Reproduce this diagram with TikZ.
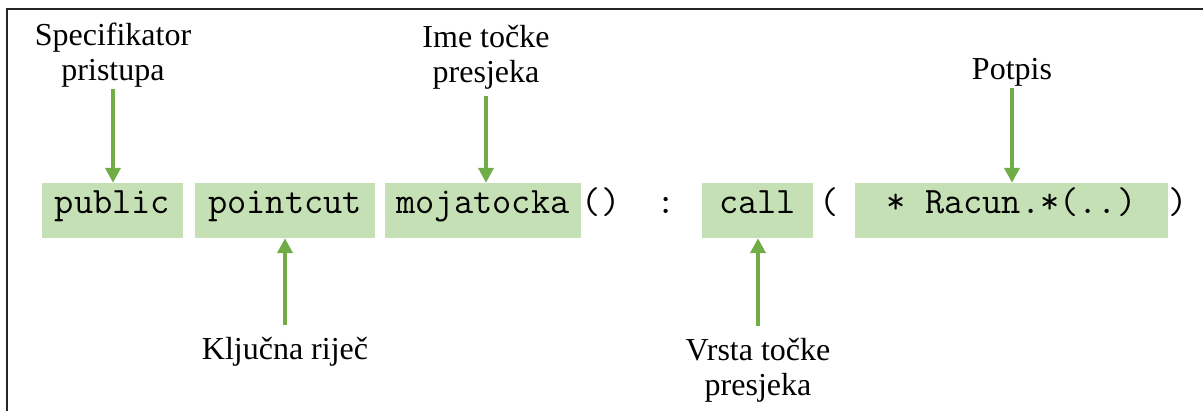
\documentclass[tikz,border=0pt]{standalone}
\usepackage{fontspec}
\setmainfont{Liberation Serif}
\usetikzlibrary{arrows.meta}
\definecolor{boxgreen}{HTML}{C5E0B4}
\definecolor{arrgreen}{HTML}{70AD47}
\begin{document}
\begin{tikzpicture}[x=1pt,y=-1pt,
  lbl/.style={font=\fontsize{32}{35}\selectfont, align=center, inner sep=0pt, anchor=base},
  code/.style={font=\ttfamily\fontsize{37.3}{40}\selectfont, inner sep=0pt, anchor=base},
  codebox/.style={code, fill=boxgreen, text height=30pt, text depth=25pt},
  arr/.style={draw=arrgreen, line width=4.5pt, -{Triangle[length=15pt,width=15pt]}}]
\useasboundingbox (0,0) rectangle (1203,410);
\draw[line width=2pt, black!85] (7,414) -- (7,8.5) -- (1207,8.5);

\node[codebox, minimum width=141pt] (pub) at (112.5,213) {public};
\node[codebox, minimum width=180pt] (pc) at (285,213) {pointcut};
\node[codebox, minimum width=196pt] (moj) at (483,213) {mojatocka};
\node[code] (par) at (601,213) {()};
\node[code] (colon) at (666,213) {:};
\node[codebox, minimum width=111pt] (call) at (757.5,213) {call};
\node[code] (lp) at (829,213) {(};
\node[codebox, minimum width=313pt] (sig) at (1011.5,213) {* Racun.*(..)};
\node[code] (rp) at (1178,213) {)};

\node[lbl] (spec) at (113,80) {Specifikator\\pristupa};
\node[lbl] (ime) at (486,82) {Ime točke\\presjeka};
\node[lbl] (pot) at (1012,79) {Potpis};
\node[lbl] (klj) at (285,359) {Ključna riječ};
\node[lbl] (vrs) at (758,395) {Vrsta točke\\presjeka};

\draw[arr, shorten <=2pt] (spec.south) -- (spec.south |- pub.north);
\draw[arr, shorten <=7pt] (ime.south) -- (ime.south |- moj.north);
\draw[arr, shorten <=2pt] (pot.south) -- (pot.south |- sig.north);
\draw[arr, shorten <=12pt] (klj.north) -- (klj.north |- pc.south);
\draw[arr, shorten <=12pt] (vrs.north) -- (vrs.north |- call.south);
\end{tikzpicture}
\end{document}
